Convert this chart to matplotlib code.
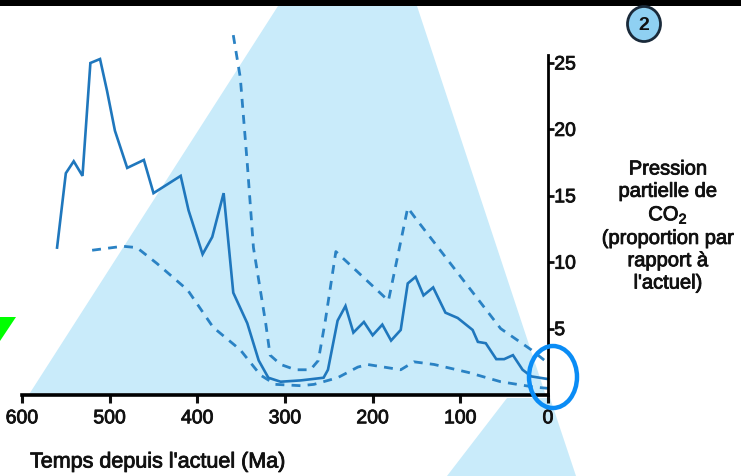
import numpy as np
import matplotlib
matplotlib.use("Agg")
import matplotlib.pyplot as plt
import matplotlib.patheffects as pe
from matplotlib.patches import Polygon, Ellipse, Rectangle

plt.rcParams['font.family'] = ['Liberation Sans', 'DejaVu Sans']

# courbe moyenne (Ma, pCO2 / actuel)
age_moy = [560, 550, 541, 531, 522, 511, 503, 494, 480, 461, 450, 419, 410, 394, 383, 370,
           359, 343, 330, 319, 305, 282, 256, 251, 240, 231, 222, 210, 200, 189, 179, 168,
           160, 151, 142, 131, 117, 103, 86, 80, 71, 59, 50, 40, 29, 19, 0]
co2_moy = [11.1, 16.7, 17.6, 16.5, 25.0, 25.3, 22.9, 19.9, 17.1, 17.7, 15.2, 16.5, 13.9, 10.6, 11.9, 15.2,
           7.7, 5.4, 2.6, 1.3, 1.0, 1.1, 1.3, 1.9, 5.6, 6.7, 4.7, 5.5, 4.5, 5.3, 4.1, 4.9,
           8.4, 8.9, 7.5, 8.1, 6.2, 5.8, 4.9, 4.0, 3.9, 2.7, 2.7, 3.0, 1.9, 1.4, 1.2]

# limite haute (pointillés)
age_haut = [359, 351, 343, 336, 322, 317, 305, 288, 271, 262, 254, 242, 182, 160, 151, 54, 19, 0]
co2_haut = [27.1, 23.9, 17.4, 11.1, 5.4, 3.0, 2.3, 1.9, 1.9, 2.6, 5.6, 10.8, 7.1, 14.1, 13.3, 5.0, 3.4, 2.4]

# limite basse (pointillés)
age_bas = [520, 485, 469, 446, 411, 382, 351, 328, 311, 282, 267, 240, 217, 206, 168, 153, 130, 91, 54, 16, 0]
co2_bas = [10.9, 11.2, 11.1, 9.9, 7.9, 5.1, 3.4, 1.5, 0.8, 0.7, 0.8, 1.3, 2.1, 2.3, 1.9, 2.5, 2.3, 1.7, 1.0, 0.6, 0.5]

xticks = [600, 500, 400, 300, 200, 100, 0]
yticks = [5, 10, 15, 20, 25]

W, H = 741, 476
fig = plt.figure(figsize=(W / 100, H / 100), dpi=100)

# texte un peu plus épais (aspect imprimé)
gras = [pe.withStroke(linewidth=0.6, foreground='#111111')]

# fond (coordonnées pixels)
bg = fig.add_axes([0, 0, 1, 1], zorder=0)
bg.set_xlim(0, W)
bg.set_ylim(H, 0)
bg.axis('off')
bleu_clair = '#c9ebfa'
bg.add_patch(Polygon([(278, 6), (417, 6), (546, 396), (28, 396)], closed=True, fc=bleu_clair, ec='none'))
bg.add_patch(Polygon([(507, 398), (550, 398), (576, 476), (447, 476)], closed=True, fc=bleu_clair, ec='none'))

# axes principaux : x 600 -> 22 px, 0 -> 548 px ; y 0 -> 395 px, 1 unité = 13.28 px
x0, x1 = 22, 548
y0 = 395
py = 13.28
ytop = 28
ax = fig.add_axes([x0 / W, (H - y0) / H, (x1 - x0) / W, ytop * py / H], zorder=1)
ax.patch.set_alpha(0)
ax.set_xlim(600, 0)
ax.set_ylim(0, ytop)

c_line = '#1f77bd'
ax.plot(age_moy, co2_moy, color=c_line, lw=1.9, clip_on=False, solid_joinstyle='miter')
ax.plot(age_haut, co2_haut, color='#2a82c4', lw=2.0, ls=(0, (3.2, 2.6)), clip_on=False)
ax.plot(age_bas, co2_bas, color='#2a82c4', lw=2.0, ls=(0, (3.2, 2.6)), clip_on=False)

for s in ['left', 'top']:
    ax.spines[s].set_visible(False)
ax.spines['bottom'].set_linewidth(2.6)
ax.spines['right'].set_linewidth(2.0)
ax.spines['right'].set_bounds(0, 25.6)
ax.yaxis.tick_right()
ax.set_xticks(xticks)
ax.set_xticklabels([str(v) for v in xticks])
ax.set_yticks(yticks)
ax.set_yticklabels([str(v) for v in yticks])
ax.tick_params(axis='x', direction='out', length=6, width=2.2, labelsize=14, pad=5, colors='#111111')
ax.tick_params(axis='y', direction='out', length=4, width=2.0, labelsize=14, pad=0.5, colors='#111111')
for lab in ax.get_xticklabels() + ax.get_yticklabels():
    lab.set_path_effects(gras)

fig.text(30 / W, 1 - 462 / H, "Temps depuis l'actuel (Ma)", fontsize=15.5, ha='left', va='center',
         color='#111111', path_effects=gras)
fig.text(668 / W, 1 - 226 / H,
         "Pression\npartielle de\nCO$_\\mathregular{2}$\n(proportion par\nrapport à\nl'actuel)",
         fontsize=14.5, ha='center', va='center', linespacing=1.22, color='#111111', path_effects=gras)

# éléments du premier plan
fg = fig.add_axes([0, 0, 1, 1], zorder=2)
fg.set_xlim(0, W)
fg.set_ylim(H, 0)
fg.axis('off')
fg.add_patch(Rectangle((0, 0), W, 6, fc='black', ec='none'))
fg.add_patch(Polygon([(0, 317), (16, 317), (0, 341)], closed=True, fc='#00ff00', ec='none'))
fg.add_patch(Ellipse((553, 377), 48, 62, fc='none', ec='#0a8cf5', lw=3.2))
fg.add_patch(Ellipse((644, 24), 33, 35, fc='#8fd0f2', ec='#1a2a3a', lw=2.0))
fg.text(644, 25, '2', fontsize=14, fontweight='bold', ha='center', va='center', color='#111111')

fig.savefig('out.png', dpi=100)
